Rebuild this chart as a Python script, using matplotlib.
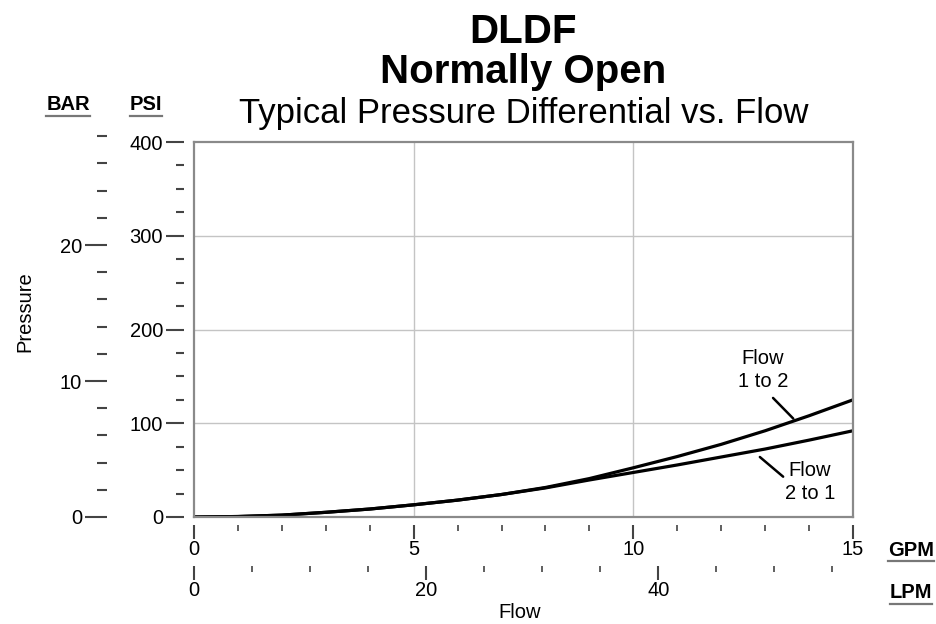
import matplotlib

matplotlib.use("Agg")
import matplotlib.pyplot as plt
from matplotlib.lines import Line2D

plt.rcParams["font.family"] = ["Liberation Sans", "DejaVu Sans"]

# flow in GPM, pressure drop in PSI
flow_gpm = [0, 1, 2, 3, 4, 5, 6, 7, 8, 9, 10, 11, 12, 13, 14, 15]
psi_1_to_2 = [0, 0.5, 2, 5, 8.5, 13, 18, 24, 31.5, 41, 52.5, 64.5, 77.5, 92, 108, 125]
psi_2_to_1 = [0, 0.5, 2, 5, 8.5, 13, 18, 24, 31, 39.5, 47.5, 55.5, 64, 72.5, 82, 92]

gpm_major = [0, 5, 10, 15]
gpm_minor = list(range(0, 16))
lpm_major = [0, 20, 40]
lpm_minor = list(range(0, 60, 5))
psi_major = [0, 100, 200, 300, 400]
psi_minor = list(range(0, 425, 25))
bar_major = [0, 10, 20]
bar_minor = list(range(0, 30, 2))

GPM_TO_LPM = 3.78541
BAR_TO_PSI = 14.5038

W, H = 937, 624
FS = 14.5
GRAY = "#8a8a8a"

fig = plt.figure(figsize=(W / 100, H / 100), dpi=100)


def fx(px):
    return px / W


def fy(py):
    return 1 - py / H


left, right, top, bottom = 194, 853, 142, 517
ax = fig.add_axes([fx(left), fy(bottom), (right - left) / W, (bottom - top) / H])
ax.plot(flow_gpm, psi_1_to_2, color="black", lw=2.3, solid_capstyle="butt")
ax.plot(flow_gpm, psi_2_to_1, color="black", lw=2.3, solid_capstyle="butt")
ax.set_xlim(0, 15)
ax.set_ylim(0, 400)
ax.set_xticks([5, 10])
ax.set_yticks([100, 200, 300])
ax.tick_params(length=0, labelbottom=False, labelleft=False)
ax.grid(True, color="#c4c4c4", lw=1)
for sp in ax.spines.values():
    sp.set_color(GRAY)
    sp.set_linewidth(1.6)

# PSI scale
psi_ax = ax.secondary_yaxis(-(left - 184) / (right - left))
psi_ax.spines["left"].set_visible(False)
psi_ax.set_yticks(psi_major)
psi_ax.set_yticks(psi_minor, minor=True)
psi_ax.tick_params(which="major", length=13, width=1.5, color="#444444", labelsize=FS, pad=2)
psi_ax.tick_params(which="minor", length=6, width=1.5, color="#444444")

# BAR scale, runs a little past 400 psi
bar_top = 28
bar_h = (bottom - top) * bar_top * BAR_TO_PSI / 400
bar_ax = fig.add_axes([fx(107), fy(bottom), 0.0005, bar_h / H])
bar_ax.set_ylim(0, bar_top)
bar_ax.patch.set_visible(False)
for sp in bar_ax.spines.values():
    sp.set_visible(False)
bar_ax.set_xticks([])
bar_ax.set_yticks(bar_major)
bar_ax.set_yticks(bar_minor, minor=True)
bar_ax.tick_params(which="major", length=16, width=1.5, color="#444444", labelsize=FS, pad=2)
bar_ax.tick_params(which="minor", length=7, width=1.5, color="#444444")

# GPM scale
gpm_ax = ax.secondary_xaxis(-(525 - bottom) / (bottom - top))
gpm_ax.spines["bottom"].set_visible(False)
gpm_ax.set_xticks(gpm_major)
gpm_ax.set_xticks(gpm_minor, minor=True)
gpm_ax.tick_params(which="major", length=10, width=1.5, color="#444444", labelsize=FS, pad=1)
gpm_ax.tick_params(which="minor", length=4, width=1.2, color="#444444")

# LPM scale
lpm_ax = ax.secondary_xaxis(
    -(566 - bottom) / (bottom - top),
    functions=(lambda g: g * GPM_TO_LPM, lambda l: l / GPM_TO_LPM),
)
lpm_ax.spines["bottom"].set_visible(False)
lpm_ax.set_xticks(lpm_major)
lpm_ax.set_xticks(lpm_minor, minor=True)
lpm_ax.tick_params(which="major", length=10, width=1.5, color="#444444", labelsize=FS, pad=1)
lpm_ax.tick_params(which="minor", length=4, width=1.2, color="#444444")

# curve labels with leader lines
ax.text(12.95, 157, "Flow\n1 to 2", ha="center", va="center", fontsize=FS, linespacing=1.25)
ax.annotate("", xy=(13.64, 105), xytext=(13.18, 127),
            arrowprops=dict(arrowstyle="-", lw=1.8, shrinkA=0, shrinkB=0))
ax.text(14.02, 37, "Flow\n2 to 1", ha="center", va="center", fontsize=FS, linespacing=1.25)
ax.annotate("", xy=(13.41, 43), xytext=(12.88, 64),
            arrowprops=dict(arrowstyle="-", lw=1.8, shrinkA=0, shrinkB=0))

# titles
cx = fx((left + right) / 2)
fig.text(cx, fy(32), "DLDF", ha="center", va="center", fontsize=29, fontweight="bold")
fig.text(cx, fy(72), "Normally Open", ha="center", va="center", fontsize=29, fontweight="bold")
fig.text(cx, fy(113), "Typical Pressure Differential vs. Flow", ha="center", va="center", fontsize=25)

fig.text(fx(25), fy(312), "Pressure", rotation=90, ha="center", va="center", fontsize=FS)
fig.text(fx(520), fy(612), "Flow", ha="center", va="center", fontsize=FS)

units = [
    fig.text(fx(68), fy(105), "BAR", ha="center", va="center", fontsize=FS, fontweight="bold"),
    fig.text(fx(146), fy(105), "PSI", ha="center", va="center", fontsize=FS, fontweight="bold"),
    fig.text(fx(911), fy(550), "GPM", ha="center", va="center", fontsize=FS, fontweight="bold"),
    fig.text(fx(911), fy(593), "LPM", ha="center", va="center", fontsize=FS, fontweight="bold"),
]

# underline the unit labels
fig.canvas.draw()
renderer = fig.canvas.get_renderer()
for t in units:
    bb = t.get_window_extent(renderer)
    y = bb.y0 - 1
    fig.add_artist(Line2D([bb.x0 / W, bb.x1 / W], [y / H, y / H], color="#777777", lw=1.6))

fig.savefig("out.png", dpi=100)
